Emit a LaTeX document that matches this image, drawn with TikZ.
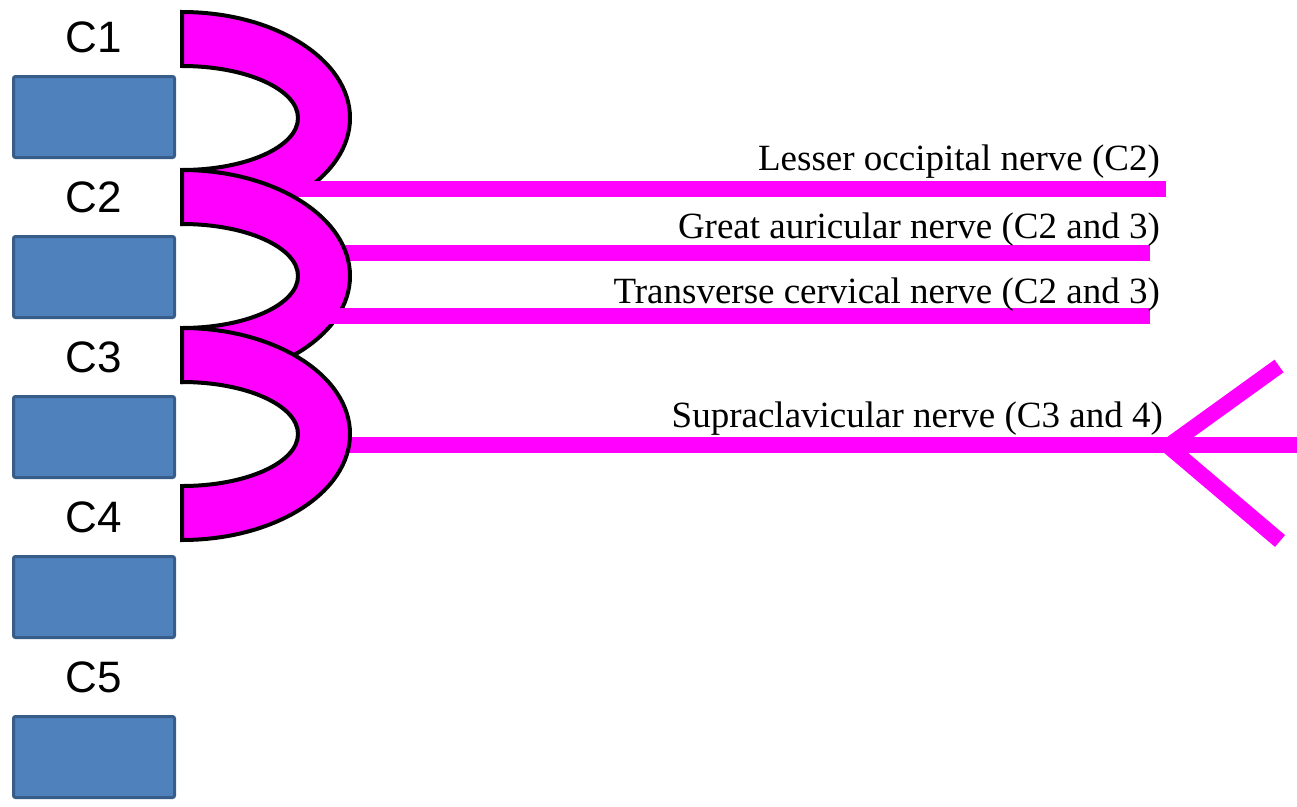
\documentclass[tikz,border=0pt]{standalone}
\usepackage{fontspec}
\setmainfont{Liberation Serif}
\newfontfamily\arialfont{Liberation Sans}
\usetikzlibrary{positioning}
\definecolor{vertfill}{HTML}{4F81BD}
\definecolor{vertline}{HTML}{385D8A}
\definecolor{nerve}{HTML}{FF00FF}

\begin{document}
\begin{tikzpicture}[x=1pt, y=1pt,
  vert/.style={draw=vertline, fill=vertfill, line width=3pt, rounded corners=2pt,
    minimum width=161pt, minimum height=81pt, inner sep=0pt},
  lvl/.style={font=\arialfont\fontsize{44}{44}\selectfont, inner sep=0pt},
  ansa/.style={draw=black, fill=nerve, line width=4pt},
  nrv/.style={draw=nerve, line width=15.5pt},
  lab/.style={font=\fontsize{37}{37}\selectfont, inner sep=0pt, anchor=base east}]
  \useasboundingbox (0,0) rectangle (1297,-806);

  % loop C1-C2 and lesser occipital
  \draw[ansa] (182,-12) arc[start angle=90, end angle=-90, x radius=168, y radius=106]
    -- ++(0,54) arc[start angle=-90, end angle=90, x radius=116, y radius=52] -- cycle;
  \coordinate (lo-a) at (250,-189);
  \coordinate (lo-b) at (1166,-189);
  \draw[nrv] (lo-a) -- (lo-b);

  % loop C2-C3, great auricular and transverse cervical
  \coordinate (ga-a) at (300,-253);
  \coordinate (ga-b) at (1150,-253);
  \draw[nrv] (ga-a) -- (ga-b);
  \draw[ansa] (182,-170) arc[start angle=90, end angle=-90, x radius=168, y radius=106]
    -- ++(0,54) arc[start angle=-90, end angle=90, x radius=116, y radius=52] -- cycle;
  \coordinate (tc-a) at (327,-316);
  \coordinate (tc-b) at (1150,-316);
  \draw[nrv] (tc-a) -- (tc-b);

  % loop C3-C4 and supraclavicular
  \coordinate (sc-a) at (300,-445);
  \coordinate (sc-b) at (1297,-445);
  \draw[nrv] (sc-a) -- (sc-b);
  \draw[ansa] (182,-328) arc[start angle=90, end angle=-90, x radius=168, y radius=106]
    -- ++(0,54) arc[start angle=-90, end angle=90, x radius=116, y radius=52] -- cycle;
  \coordinate (fork) at (1168,-446);
  \coordinate (sc-up) at (1279,-366);
  \coordinate (sc-dn) at (1280,-541);
  \draw[nrv] (fork) -- (sc-up);
  \draw[nrv] (fork) -- (sc-dn);

  \node[lab] (lon) at (1160,-170) {Lesser occipital nerve (C2)};
  \node[lab] (gan) at (1160,-238) {Great auricular nerve (C2 and 3)};
  \node[lab] (tcn) at (1160,-303) {Transverse cervical nerve (C2 and 3)};
  \node[lab] (scn) at (1163,-427) {Supraclavicular nerve (C3 and 4)};

  % vertebrae
  \node[vert] (c1) at (94,-117) {};
  \node[vert, below=76pt of c1] (c2) {};
  \node[vert, below=76pt of c2] (c3) {};
  \node[vert, below=76pt of c3] (c4) {};
  \node[vert, below=76pt of c4] (c5) {};
  \node[lvl, above=22pt of c1] (l1) {C1};
  \node[lvl, above=22pt of c2] (l2) {C2};
  \node[lvl, above=22pt of c3] (l3) {C3};
  \node[lvl, above=22pt of c4] (l4) {C4};
  \node[lvl, above=22pt of c5] (l5) {C5};
\end{tikzpicture}
\end{document}
